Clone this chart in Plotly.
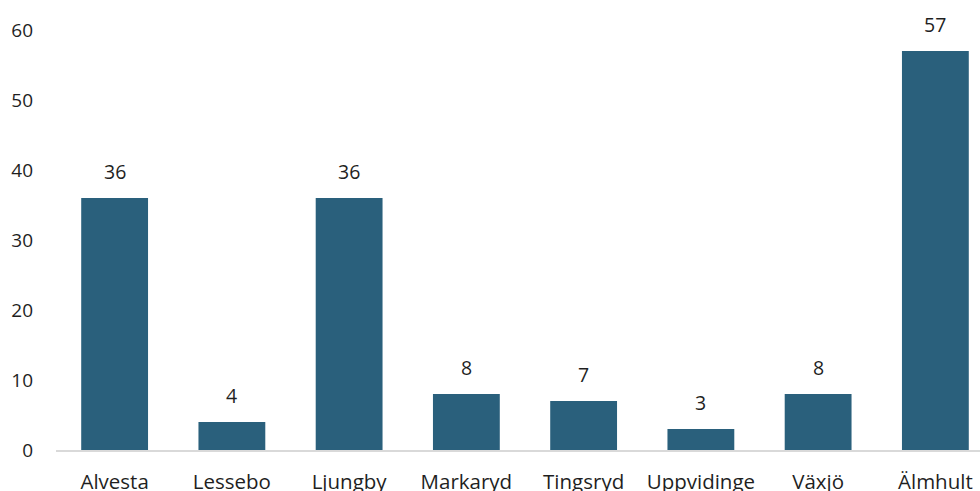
import plotly.graph_objects as go

# Municipalities and their counts
categories = ["Alvesta", "Lessebo", "Ljungby", "Markaryd", "Tingsryd", "Uppvidinge", "Växjö", "Älmhult"]
values = [36, 4, 36, 8, 7, 3, 8, 57]
y_ticks = [0, 10, 20, 30, 40, 50, 60]

BAR_COLOR = "#2a607c"
TEXT_COLOR = "#1f1f1f"
FONT = "Open Sans"

fig = go.Figure(
    go.Bar(
        x=categories,
        y=values,
        marker=dict(color=BAR_COLOR, line=dict(width=0)),
        hoverinfo="x+y",
    )
)

# Value labels above each bar
for cat, val in zip(categories, values):
    fig.add_annotation(
        x=cat, y=val, text=str(val),
        showarrow=False, yanchor="bottom", yshift=11,
        font=dict(family=FONT, size=19.5, color=TEXT_COLOR),
    )

fig.update_layout(
    width=994,
    height=510,
    margin=dict(l=56, r=0, t=30, b=60),
    paper_bgcolor="white",
    plot_bgcolor="white",
    bargap=0.43,
    showlegend=False,
    font=dict(family=FONT, size=19, color=TEXT_COLOR),
    xaxis=dict(
        showline=True, linecolor="#d9d9d9", linewidth=1.5,
        showgrid=False, ticks="", ticklabelstandoff=13,
        tickfont=dict(family=FONT, size=20.5, color=TEXT_COLOR),
    ),
    yaxis=dict(
        range=[0, 60], tickvals=y_ticks,
        showgrid=False, zeroline=False, showline=False,
        ticks="", ticklabelstandoff=22,
        tickfont=dict(family=FONT, size=19, color=TEXT_COLOR),
    ),
)

fig.write_html("out.html")
